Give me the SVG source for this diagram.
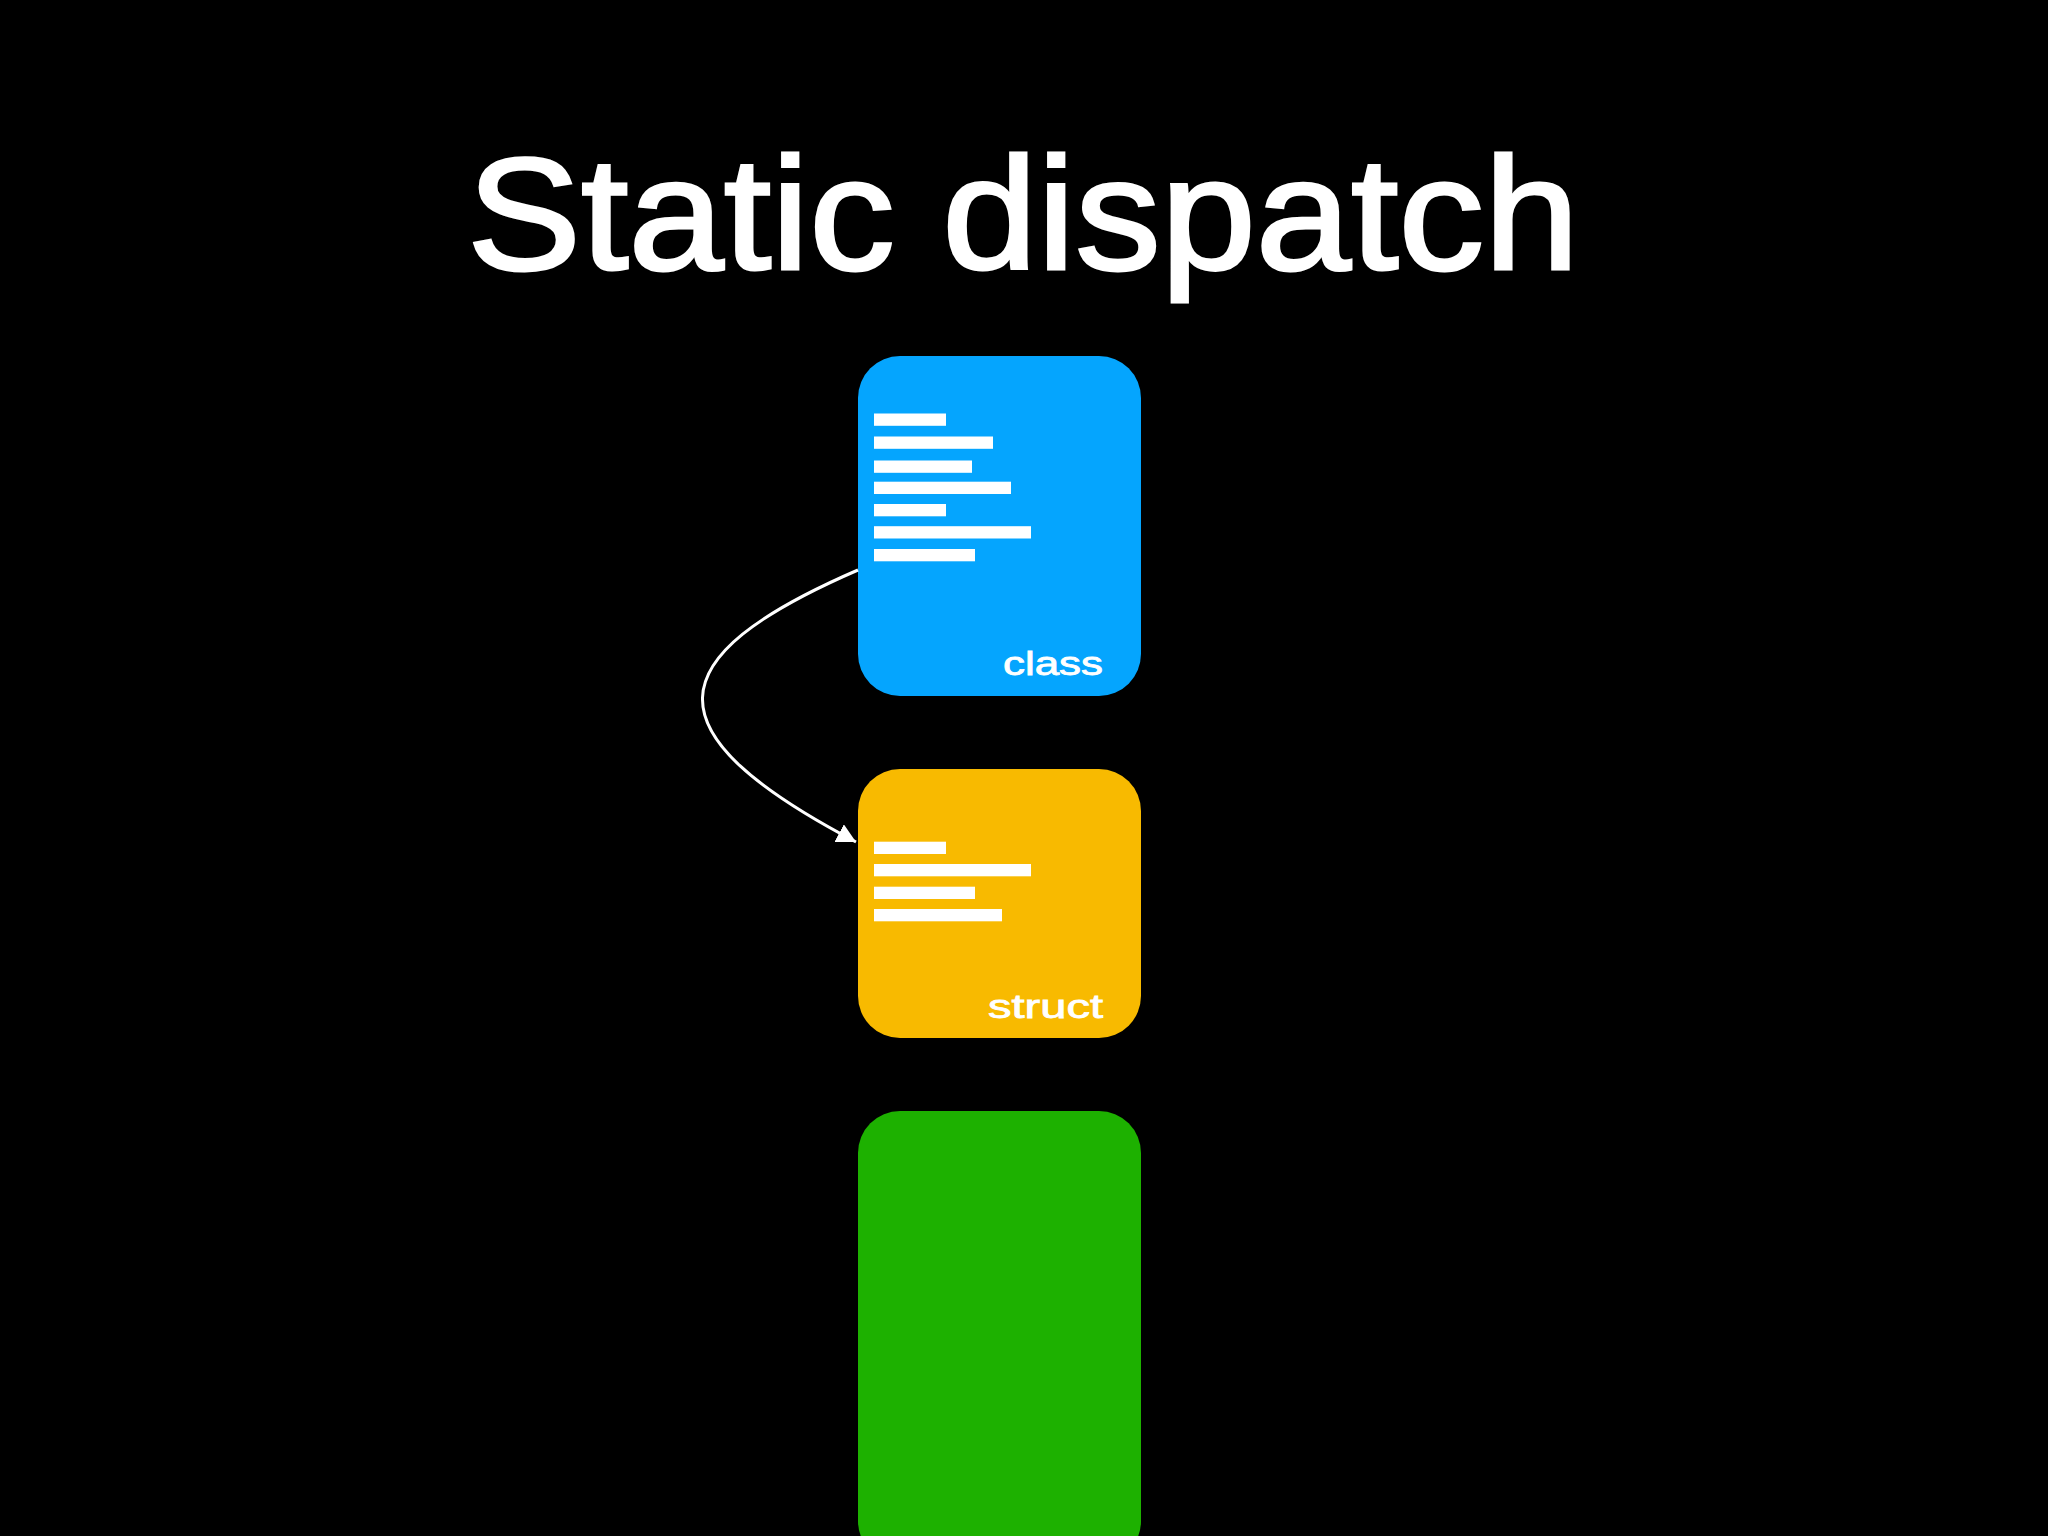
<svg xmlns="http://www.w3.org/2000/svg" width="2048" height="1536" viewBox="0 0 2048 1536">
  <defs>
    <style>
      .title { font-family: "Liberation Sans", Arial, sans-serif; font-size: 159px; fill: #ffffff; stroke: #ffffff; stroke-width: 3px; stroke-linejoin: miter; }
      .label { font-family: "Liberation Sans", Arial, sans-serif; font-size: 33px; fill: #ffffff; stroke: #ffffff; stroke-width: 0.8px; }
      .bar { fill: #ffffff; }
      .conn { fill: none; stroke: #ffffff; stroke-width: 3; }
    </style>
    <marker id="arrow" markerUnits="userSpaceOnUse" viewBox="0 0 20 20" markerWidth="20" markerHeight="20" refX="19" refY="10" orient="auto">
      <path d="M0,0 L19,10 L0,20 Z" fill="#ffffff"/>
    </marker>
  </defs>
  <rect x="0" y="0" width="2048" height="1536" fill="#000000"/>
  <text class="title" x="467" y="269" textLength="1112" lengthAdjust="spacingAndGlyphs">Static dispatch</text>

  <g id="node-class">
    <rect x="858" y="356" width="283" height="340" rx="42" ry="42" fill="#05A5FE"/>
    <rect class="bar" x="874" y="413.5" width="72" height="12.3"/>
    <rect class="bar" x="874" y="436.5" width="119" height="12.3"/>
    <rect class="bar" x="874" y="460.5" width="98" height="12.3"/>
    <rect class="bar" x="874" y="481.7" width="137" height="12.3"/>
    <rect class="bar" x="874" y="504" width="72" height="12.3"/>
    <rect class="bar" x="874" y="526.2" width="157" height="12.3"/>
    <rect class="bar" x="874" y="549" width="101" height="12.3"/>
    <text class="label" x="1003" y="675" textLength="100" lengthAdjust="spacingAndGlyphs">class</text>
  </g>

  <g id="node-struct">
    <rect x="858" y="769" width="283" height="269" rx="42" ry="42" fill="#F8BA00"/>
    <rect class="bar" x="874" y="841.7" width="72" height="12.3"/>
    <rect class="bar" x="874" y="864" width="157" height="12.3"/>
    <rect class="bar" x="874" y="886.7" width="101" height="12.3"/>
    <rect class="bar" x="874" y="909" width="128" height="12.3"/>
    <text class="label" x="988" y="1018" textLength="115" lengthAdjust="spacingAndGlyphs">struct</text>
  </g>

  <g id="node-green">
    <rect x="858" y="1111" width="283" height="452" rx="42" ry="42" fill="#1DB100"/>
  </g>

  <g id="connectors">
    <path class="conn" d="M858,570 C655,658 647,732 856,842" marker-end="url(#arrow)"/>
  </g>
</svg>
